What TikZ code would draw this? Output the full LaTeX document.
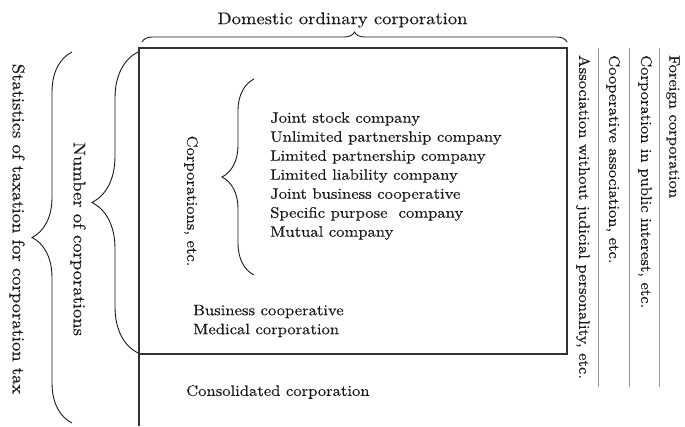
\documentclass[tikz,border=0pt]{standalone}
\usepackage{fontspec}
\setmainfont{lmroman10-regular.otf}[FakeStretch=1.1, FakeBold=0.3]
\usetikzlibrary{decorations.pathreplacing}
\begin{document}
\begin{tikzpicture}[x=1pt,y=-1pt,
  inner/.style={font=\fontsize{15.1}{19}\selectfont, inner sep=0pt, text=black!90},
  outer/.style={font=\fontsize{16.9}{22}\selectfont, inner sep=0pt, text=black!90},
  vlabel/.style={rotate=-90, anchor=west},
  brc/.style={decorate, decoration={brace, amplitude=#1}, line width=0.9pt, draw=black!90},
  frame/.style={line width=1.2pt, draw=black!80},
  sepline/.style={line width=0.8pt, draw=black!40}]
\useasboundingbox (0,0) rectangle (685,426);

% frame
\coordinate (tl) at (139,48);
\coordinate (tr) at (567,48);
\coordinate (br) at (567,354);
\coordinate (bl) at (139,354);
\coordinate (bot) at (139,426);
\draw[frame] (bot) -- (tl) -- (tr) -- (br) -- (bl);

% grey separators
\coordinate (s1t) at (598,48); \coordinate (s1b) at (598,387);
\coordinate (s2t) at (629,48); \coordinate (s2b) at (629,387);
\coordinate (s3t) at (659,48); \coordinate (s3b) at (659,387);
\draw[sepline] (s1t) -- (s1b);
\draw[sepline] (s2t) -- (s2b);
\draw[sepline] (s3t) -- (s3b);

% braces
\coordinate (tbL) at (142,42); \coordinate (tbR) at (567,42);
\draw[brc=10pt] (tbL) -- (tbR);
\coordinate (obB) at (72,423); \coordinate (obT) at (72,52);
\draw[brc=40pt] (obB) -- (obT);
\coordinate (nbB) at (138,353); \coordinate (nbT) at (138,52);
\draw[brc=46pt] (nbB) -- (nbT);
\coordinate (cbB) at (254,275); \coordinate (cbT) at (254,79);
\draw[brc=32pt] (cbB) -- (cbT);

% labels
\node[outer] (title) at (342.5,20) {Domestic ordinary corporation};
\node[outer, rotate=-90] (stats) at (17,229) {Statistics of taxation for corporation tax};
\node[outer, rotate=-90] (numcorp) at (78,239) {Number of corporations};
\node[inner, rotate=-90] (corpetc) at (191,201) {Corporations, etc.};

\node[inner, anchor=west, align=left] (list) at (270,176) {Joint stock company\\
Unlimited partnership company\\
Limited partnership company\\
Limited liability company\\
Joint business cooperative\\
Specific purpose\ \ company\\
Mutual company};

\node[inner, anchor=west, align=left] (busmed) at (193,321) {Business cooperative\\ Medical corporation};
\node[inner, anchor=west] (consol) at (186,392) {Consolidated corporation};

\node[inner, vlabel] (assoc) at (583,55) {Association without judicial personality, etc.};
\node[inner, vlabel] (coopassoc) at (613,55) {Cooperative association, etc.};
\node[inner, vlabel] (pubint) at (645,55) {Corporation in public interest, etc.};
\node[inner, vlabel] (foreign) at (673,55) {Foreign corporation};
\end{tikzpicture}
\end{document}
